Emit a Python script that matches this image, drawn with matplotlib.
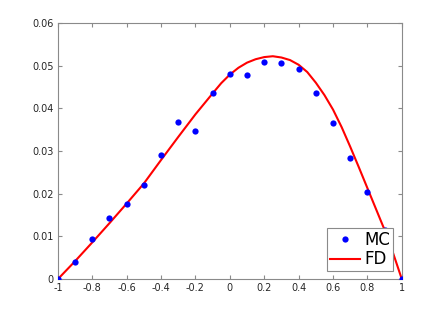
import matplotlib
matplotlib.use("Agg")
import matplotlib.pyplot as plt
import numpy as np

# Monte Carlo samples
mc_x = [-1.0, -0.9, -0.8, -0.7, -0.6, -0.5, -0.4, -0.3, -0.2, -0.1, 0.0,
        0.1, 0.2, 0.3, 0.4, 0.5, 0.6, 0.7, 0.8, 0.9, 1.0]
mc_y = [0.0, 0.0041, 0.0093, 0.0144, 0.0176, 0.0221, 0.0291, 0.0369, 0.0348,
        0.0436, 0.0481, 0.0478, 0.0509, 0.0505, 0.0492, 0.0436, 0.0365,
        0.0284, 0.0205, 0.0116, 0.0]

# finite difference solution
fd_x = [-1.0, -0.9, -0.8, -0.7, -0.6, -0.5, -0.4, -0.3, -0.2, -0.1, -0.05,
        0.0, 0.05, 0.1, 0.15, 0.2, 0.25, 0.3, 0.35, 0.4, 0.45, 0.5, 0.55,
        0.6, 0.65, 0.7, 0.75, 0.8, 0.85, 0.9, 0.95, 1.0]
fd_y = [0.0, 0.0042, 0.0086, 0.0131, 0.0177, 0.0224, 0.0279, 0.0333, 0.0386,
        0.0435, 0.0459, 0.0479, 0.0495, 0.0507, 0.0515, 0.0520, 0.0522,
        0.0519, 0.0513, 0.0502, 0.0485, 0.0460, 0.0431, 0.0397, 0.0356,
        0.0310, 0.0262, 0.0213, 0.0164, 0.0115, 0.0060, 0.0]

xticks = [-1, -0.8, -0.6, -0.4, -0.2, 0, 0.2, 0.4, 0.6, 0.8, 1]
xlabels = ["-1", "-0.8", "-0.6", "-0.4", "-0.2", "0", "0.2", "0.4", "0.6", "0.8", "1"]
yticks = [0, 0.01, 0.02, 0.03, 0.04, 0.05, 0.06]
ylabels = ["0", "0.01", "0.02", "0.03", "0.04", "0.05", "0.06"]

fig = plt.figure(figsize=(4.45, 3.14), dpi=100)
ax = fig.add_axes([0.130, 0.111, 0.773, 0.816])

ax.plot(mc_x, mc_y, linestyle="none", marker="o", markersize=4.5,
        markerfacecolor="#0000ff", markeredgewidth=0, label="MC", zorder=3)
ax.plot(fd_x, fd_y, color="#ff0000", linewidth=1.5, label="FD", zorder=2)

ax.set_xlim(-1, 1)
ax.set_ylim(0, 0.06)
ax.set_xticks(xticks)
ax.set_xticklabels(xlabels)
ax.set_yticks(yticks)
ax.set_yticklabels(ylabels)

spine_col = "#8a8a8a"
for s in ax.spines.values():
    s.set_color(spine_col)
    s.set_linewidth(0.8)
ax.tick_params(direction="in", length=3, width=0.8, color=spine_col,
               labelsize=7, labelcolor="#262626", top=True, right=True, pad=3)

leg = ax.legend(loc="lower right", bbox_to_anchor=(0.974, 0.032),
                borderaxespad=0, fontsize=12, fancybox=False, framealpha=1,
                edgecolor="#8a8a8a", handlelength=1.8, handletextpad=0.3,
                borderpad=0.15, labelspacing=0.1)
leg.get_frame().set_linewidth(0.8)

fig.savefig("out.png", dpi=100)
